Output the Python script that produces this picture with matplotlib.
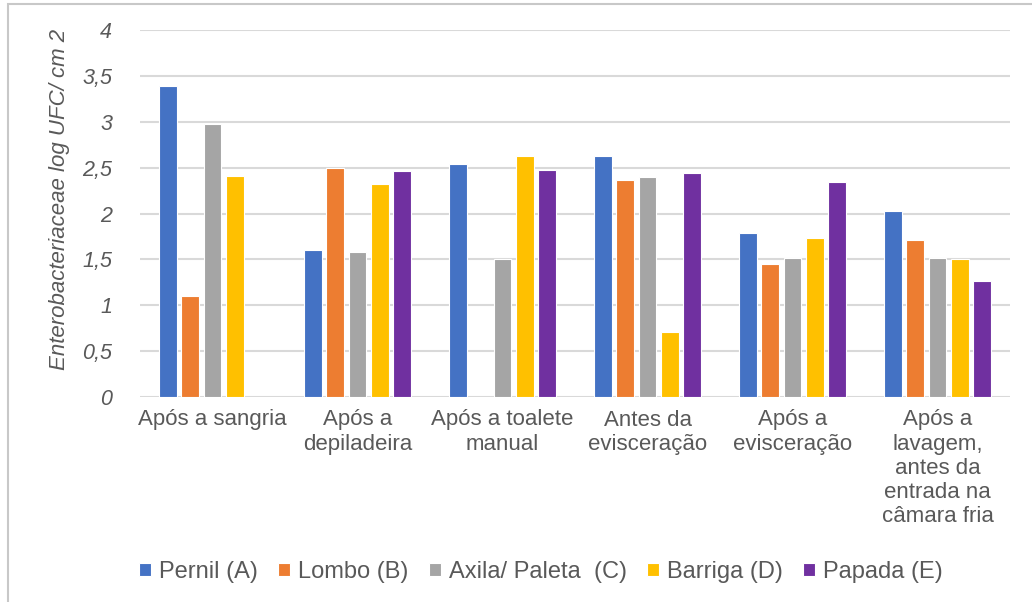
import numpy as np
import matplotlib.pyplot as plt
from matplotlib.patches import Rectangle

plt.rcParams['font.family'] = ['Liberation Sans', 'DejaVu Sans']

categories = ['Após a sangria', 'Após a\ndepiladeira', 'Após a toalete\nmanual',
              'Antes da\nevisceração', 'Após a\nevisceração',
              'Após a\nlavagem,\nantes da\nentrada na\ncâmara fria']
series_names = ['Pernil (A)', 'Lombo (B)', 'Axila/ Paleta  (C)', 'Barriga (D)', 'Papada (E)']
pernil = [3.39, 1.60, 2.54, 2.63, 1.79, 2.03]
lombo = [1.10, 2.50, np.nan, 2.36, 1.45, 1.71]
axila = [2.975, 1.58, 1.50, 2.40, 1.52, 1.52]
barriga = [2.41, 2.32, 2.63, 0.71, 1.73, 1.50]
papada = [np.nan, 2.46, 2.47, 2.44, 2.34, 1.26]
colors = ['#4472C4', '#ED7D31', '#A5A5A5', '#FFC000', '#7030A0']
yticks = [0, 0.5, 1, 1.5, 2, 2.5, 3, 3.5, 4]

text_color = '#595959'

fig = plt.figure(figsize=(10.32, 6.02), dpi=100)
ax = fig.add_axes([140 / 1032, 1 - 397 / 602, 870 / 1032, 367 / 602])

x = np.arange(len(categories))
slot = 0.152
width = 0.124
for i, (vals, name, c) in enumerate(zip([pernil, lombo, axila, barriga, papada], series_names, colors)):
    ax.bar(x + (i - 2) * slot, vals, width, color=c, label=name,
           edgecolor='white', linewidth=0.8, zorder=3)

ax.set_xlim(-0.5, len(categories) - 0.5)
ax.set_ylim(0, 4)
ax.set_yticks(yticks)
ax.set_yticklabels([f'{v:g}'.replace('.', ',') for v in yticks],
                   fontstyle='italic', fontsize=15.5, color=text_color)
ax.set_xticks(x)
ax.set_xticklabels(categories, fontsize=16, color=text_color, linespacing=1.2)
ax.tick_params(axis='both', length=0)
ax.tick_params(axis='y', pad=20)
ax.tick_params(axis='x', pad=9)
ax.yaxis.grid(True, color='#D9D9D9', linewidth=1.5, zorder=0)
for s in ax.spines.values():
    s.set_visible(False)

ax.set_ylabel('Enterobacteriaceae log UFC/ cm 2', fontstyle='italic',
              fontsize=16, color=text_color)
ax.yaxis.set_label_coords(-0.08, 0.537)

ax.legend(loc='center', bbox_to_anchor=(541 / 1032, 1 - 572 / 602), bbox_transform=fig.transFigure,
          ncol=5, frameon=False, fontsize=17, labelcolor=text_color,
          handlelength=0.5, handleheight=0.5, handletextpad=0.35, columnspacing=0.85)

# outer frame of the chart area
fig.add_artist(Rectangle((8 / 1032, -0.1), 1.2, 1 - 4 / 602 + 0.1,
                         transform=fig.transFigure, fill=False,
                         edgecolor='#C8C8C8', linewidth=1.5))

fig.savefig('out.png', dpi=100)
